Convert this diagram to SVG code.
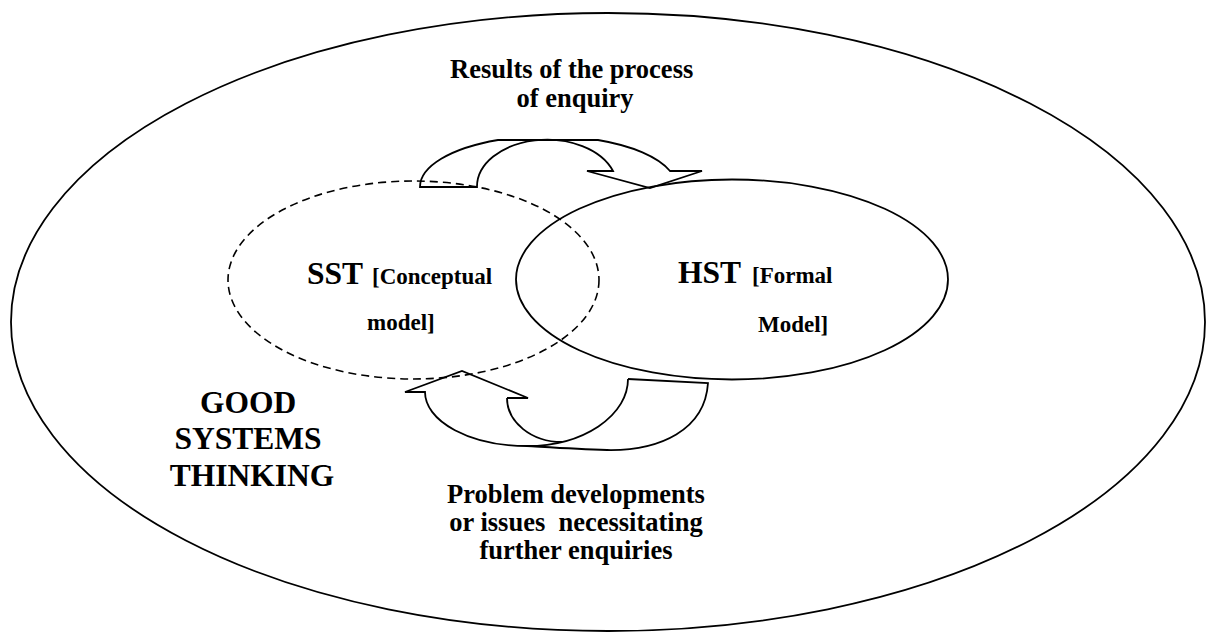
<svg xmlns="http://www.w3.org/2000/svg" width="1207" height="635" viewBox="0 0 1207 635">
  <style>
    .line { fill: none; stroke: #000; stroke-width: 1.8; stroke-linejoin: miter; }
    .dash { fill: none; stroke: #000; stroke-width: 1.6; stroke-dasharray: 8 5; }
    .t { font-family: "Liberation Serif", "Times New Roman", serif; font-weight: bold; fill: #000; }
    .big { font-size: 31.5px; }
    .small { font-size: 23px; }
    .note { font-size: 26.5px; text-anchor: middle; }
  </style>
  <rect width="1207" height="635" fill="#fff"/>

  <!-- surrounding frame: good systems thinking -->
  <g id="good-systems-thinking">
    <ellipse class="line" cx="608" cy="322" rx="597" ry="309" stroke-width="2"/>
    <text class="t big" text-anchor="middle">
      <tspan x="252" y="413">GOOD</tspan>
      <tspan x="252" y="449">SYSTEMS</tspan>
      <tspan x="252" y="486">THINKING</tspan>
    </text>
  </g>

  <!-- soft systems thinking -->
  <g id="sst">
    <ellipse class="dash" cx="413.5" cy="280" rx="185.5" ry="99"/>
    <text class="t" y="284"><tspan class="big" x="307">SST</tspan><tspan class="small" x="372">[Conceptual</tspan></text>
    <text class="t small" x="367" y="330">model]</text>
  </g>

  <!-- hard systems thinking -->
  <g id="hst">
    <ellipse class="line" cx="732" cy="279.5" rx="216" ry="100"/>
    <text class="t" y="283"><tspan class="big" x="678">HST</tspan><tspan class="small" x="752">[Formal</tspan></text>
    <text class="t small" x="758" y="332">Model]</text>
  </g>

  <!-- curved block arrows between the two approaches -->
  <g id="connectors">
    <!-- SST to HST -->
    <path class="line" d="M 420 187 A 128 51 0 0 1 498 140 L 598 140 A 128 51 0 0 1 670 171 L 702 171 L 650 188 L 587 171 L 613 171 A 70 47 0 0 0 477 187 Z"/>
    <!-- HST back to SST -->
    <path class="line" d="M 507 398 L 528 398 L 462 371 L 405 392 L 425 392 A 102 54 0 0 0 527 446"/>
    <path class="line" d="M 507 398 A 55 44 0 0 0 562 442"/>
    <path class="line" d="M 628 379 A 101 67 0 0 1 527 446"/>
    <path class="line" d="M 628 379 L 708 383 C 705 430 660 451 607 450 C 575 449 545 447 527 446"/>
  </g>

  <!-- connector labels -->
  <g id="label-results">
    <text class="t note">
      <tspan x="575" y="78">Results of the process</tspan>
      <tspan x="575" y="107">of enquiry</tspan>
    </text>
  </g>
  <g id="label-problems">
    <text class="t note" xml:space="preserve"><tspan x="576" y="503">Problem developments</tspan><tspan x="576" y="531">or issues  necessitating</tspan><tspan x="576" y="559">further enquiries</tspan></text>
  </g>
</svg>
